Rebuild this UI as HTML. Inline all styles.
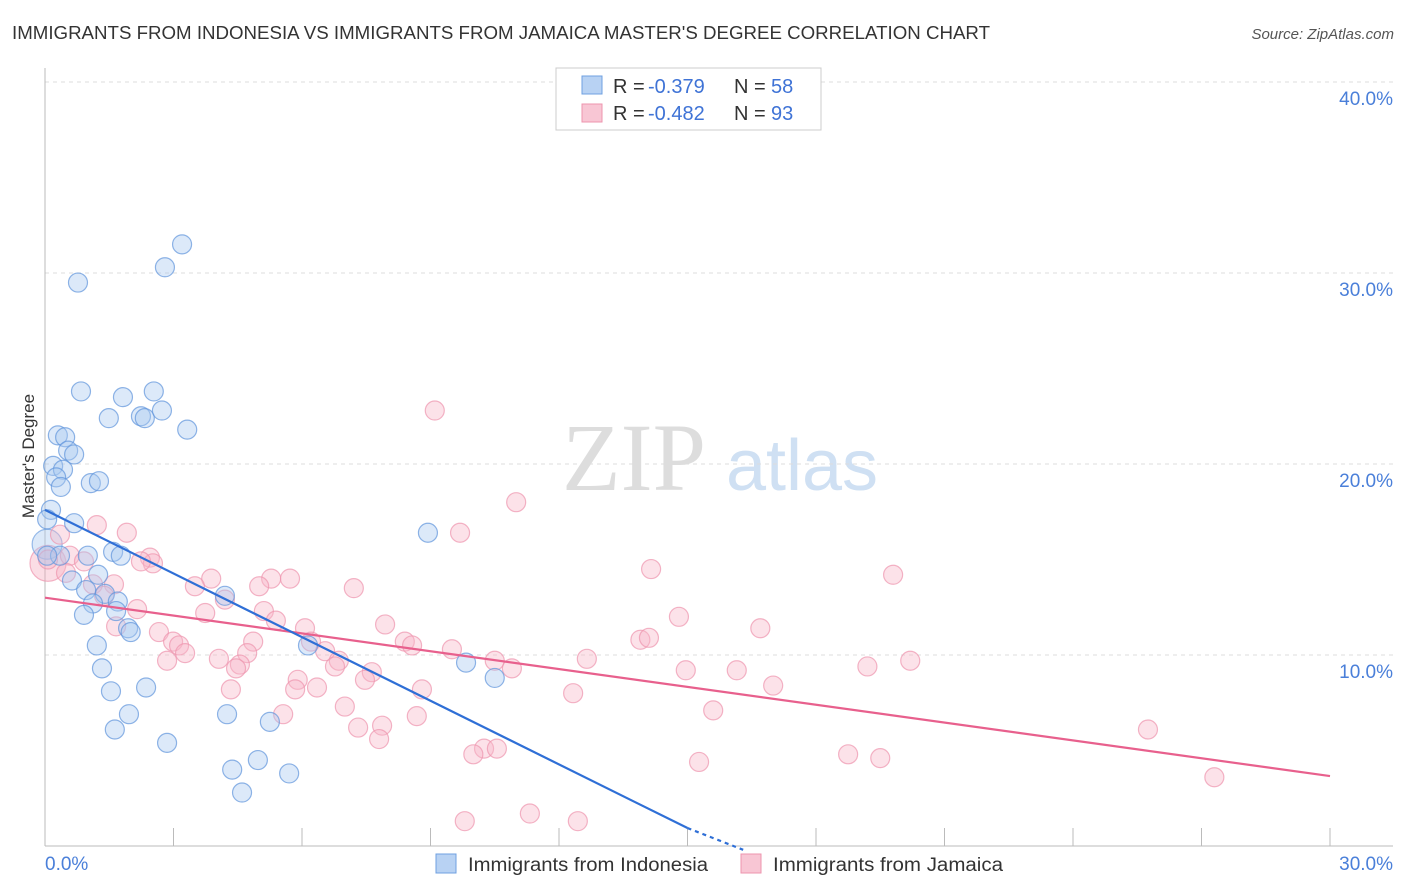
<!DOCTYPE html>
<html><head><meta charset="utf-8">
<style>
body{margin:0;background:#fff;font-family:"Liberation Sans",sans-serif;}
svg{display:block}
</style></head>
<body>
<svg id="chart" width="1406" height="892" xmlns="http://www.w3.org/2000/svg">
<text x="12" y="39" font-size="18" fill="#333" textLength="978" lengthAdjust="spacingAndGlyphs">IMMIGRANTS FROM INDONESIA VS IMMIGRANTS FROM JAMAICA MASTER'S DEGREE CORRELATION CHART</text>
<text x="1394" y="39" font-size="15" fill="#555" font-style="italic" text-anchor="end">Source: ZipAtlas.com</text>
<g>
<text x="634" y="490" font-size="96" fill="#ddd" font-family="Liberation Serif,serif" text-anchor="middle">ZIP</text>
<text x="802" y="490" font-size="72" fill="#cfe0f3" text-anchor="middle">atlas</text>
</g>
<g id="grid"></g>
<g id="axes"></g>
<g id="pts"></g>
<g id="lines"></g>
<text transform="translate(34,456) rotate(-90)" font-size="17" fill="#333" text-anchor="middle">Master's Degree</text>
<g>
<rect x="556" y="68" width="265" height="62" fill="#fff" stroke="#ccc"/>
<rect x="582" y="76" width="20" height="18" fill="#b8d2f3" stroke="#6fa0e0"/>
<rect x="582" y="104" width="20" height="18" fill="#f8c6d4" stroke="#ee94ae"/>
<text x="613" y="93" font-size="20" fill="#333">R =</text>
<text x="648" y="93" font-size="20" fill="#3f73d6">-0.379</text>
<text x="734" y="93" font-size="20" fill="#333">N =</text>
<text x="771" y="93" font-size="20" fill="#3f73d6">58</text>
<text x="613" y="120" font-size="20" fill="#333">R =</text>
<text x="648" y="120" font-size="20" fill="#3f73d6">-0.482</text>
<text x="734" y="120" font-size="20" fill="#333">N =</text>
<text x="771" y="120" font-size="20" fill="#3f73d6">93</text>
</g>
<g>
<rect x="436" y="854" width="20" height="19" fill="#b8d2f3" stroke="#6fa0e0"/>
<text x="468" y="871" font-size="19" fill="#333" textLength="240" lengthAdjust="spacingAndGlyphs">Immigrants from Indonesia</text>
<rect x="741" y="854" width="20" height="19" fill="#f8c6d4" stroke="#ee94ae"/>
<text x="773" y="871" font-size="19" fill="#333" textLength="230" lengthAdjust="spacingAndGlyphs">Immigrants from Jamaica</text>
</g>
</svg>
<script>
const blueX=[3.2,2.8,0.77,0.84,2.54,1.82,1.49,2.24,2.33,2.73,3.32,0.3,0.47,0.54,0.68,0.19,0.42,0.26,0.37,1.07,1.26,0.14,0.68,0.05,1.59,1.77,1.0,8.94,0.63,1.24,0.96,1.4,1.12,1.7,1.66,0.91,4.2,1.94,2.0,1.21,6.14,1.33,9.83,10.5,1.54,2.36,1.96,4.25,5.25,1.63,2.85,4.97,4.37,5.7,4.6,0.35,0.05];
const blueY=[31.5,30.3,29.5,23.8,23.8,23.5,22.4,22.5,22.4,22.8,21.8,21.5,21.4,20.7,20.5,19.9,19.7,19.3,18.8,19.0,19.1,17.6,16.9,17.1,15.4,15.2,15.2,16.4,13.9,14.2,13.4,13.2,12.7,12.8,12.3,12.1,13.1,11.4,11.2,10.5,10.5,9.3,9.6,8.8,8.1,8.3,6.9,6.9,6.5,6.1,5.4,4.5,4.0,3.8,2.8,15.2,15.2];
const pinkX=[9.1,11.0,9.69,1.21,1.91,0.35,0.07,0.58,0.91,2.45,2.52,2.24,0.49,14.15,19.8,3.88,5.28,5.72,1.61,3.5,5.0,7.21,1.12,1.38,2.15,3.74,5.11,4.2,14.8,5.39,1.66,7.94,6.07,16.7,2.66,2.99,3.13,4.86,8.4,8.57,13.9,14.1,6.21,9.5,3.27,4.72,6.54,4.06,2.85,6.86,4.55,4.46,6.77,10.5,10.9,12.65,14.96,16.15,19.2,20.2,7.63,7.47,5.9,6.35,5.84,4.34,8.8,17.0,12.33,7.0,15.6,5.56,8.68,7.31,7.87,25.75,7.8,10.25,10.55,10.0,18.75,19.5,15.27,27.3,11.32,9.8,12.44];
const pinkY=[22.8,18.0,16.4,16.8,16.4,16.3,15.0,15.2,14.9,15.1,14.8,14.9,14.3,14.5,14.2,14.0,14.0,14.0,13.7,13.6,13.6,13.5,13.7,13.1,12.4,12.2,12.3,12.9,12.0,11.8,11.5,11.6,11.4,11.4,11.2,10.7,10.5,10.7,10.7,10.5,10.8,10.9,10.7,10.3,10.1,10.1,10.2,9.8,9.7,9.7,9.5,9.3,9.4,9.7,9.3,9.8,9.2,9.2,9.4,9.7,9.1,8.7,8.7,8.3,8.2,8.2,8.2,8.4,8.0,7.3,7.1,6.9,6.8,6.2,6.3,6.1,5.6,5.1,5.1,4.8,4.8,4.6,4.4,3.6,1.7,1.3,1.3];
const blueBig=[0.05,15.8,15];
const pinkBig=[0.07,14.8,18];
const blueLine=[[0,17.6],[15,0.94]];
const blueDash=[[15,0.94],[16.3,-0.2]];
const pinkLine=[[0,13.0],[30,3.66]];
const yTicks=[10,20,30,40];
const yTickLabels=["10.0%","20.0%","30.0%","40.0%"];
const xTickCount=10;
const NS="http://www.w3.org/2000/svg";
const sx=v=>45+v*1285/30;
const sy=v=>846-v*19.1;
function mk(tag,attrs,parent){const e=document.createElementNS(NS,tag);for(const k in attrs)e.setAttribute(k,attrs[k]);parent.appendChild(e);return e;}
const grid=document.getElementById('grid'),axes=document.getElementById('axes'),pts=document.getElementById('pts'),lines=document.getElementById('lines');
yTicks.forEach((t,i)=>{
 const l=mk('line',{x1:45,x2:1393,y1:sy(t),y2:sy(t),stroke:'#ddd','stroke-dasharray':'4,4'},grid);
 
 
 const tx=mk('text',{x:1393,y:sy(t)+23,'font-size':19,fill:'#4a7fd9','text-anchor':'end'},axes);
 tx.textContent=yTickLabels[i];
 
 
});
const ax=mk('line',{x1:45,x2:45,y1:68,y2:846,stroke:'#bbb'},axes);


const bx=mk('line',{x1:45,x2:1393,y1:846,y2:846,stroke:'#bbb'},axes);


for(let i=0;i<=xTickCount;i++){
 const x=sx(i*3);
 const t=mk('line',{x1:x,x2:x,y1:828,y2:846,stroke:'#bbb'},axes);
 
 
}
const xl=mk('text',{x:45,y:870,'font-size':19,fill:'#4a7fd9'},axes);xl.textContent='0.0%';


const xr=mk('text',{x:1393,y:870,'font-size':19,fill:'#4a7fd9','text-anchor':'end'},axes);xr.textContent='30.0%';


function dot(x,y,r,fill,stroke,name){
 const c=mk('circle',{cx:sx(x),cy:sy(y),r:r,fill:fill,'fill-opacity':0.4,stroke:stroke,'stroke-opacity':0.7,'stroke-width':1.2},pts);
 
 
}
dot(pinkBig[0],pinkBig[1],pinkBig[2],'#f4a9bf','#ee94ae','point-jamaica');
dot(blueBig[0],blueBig[1],blueBig[2],'#a8c8f0','#6fa0e0','point-indonesia');
pinkX.forEach((x,i)=>dot(x,pinkY[i],9.5,'#f7b6c9','#ee94ae','point-jamaica'));
blueX.forEach((x,i)=>dot(x,blueY[i],9.5,'#a8c8f0','#5f94dc','point-indonesia'));
function ln(p,stroke,dash,name){
 const l=mk('line',{x1:sx(p[0][0]),y1:sy(p[0][1]),x2:sx(p[1][0]),y2:sy(p[1][1]),stroke:stroke,'stroke-width':2.2},lines);
 if(dash)l.setAttribute('stroke-dasharray',dash);
 
 
}
ln(pinkLine,'#e8608d',null,'trend-line-jamaica');
ln(blueLine,'#2f6fd6',null,'trend-line-indonesia');
ln(blueDash,'#2f6fd6','4,4','trend-line-indonesia-extension');
</script>
</body></html>
